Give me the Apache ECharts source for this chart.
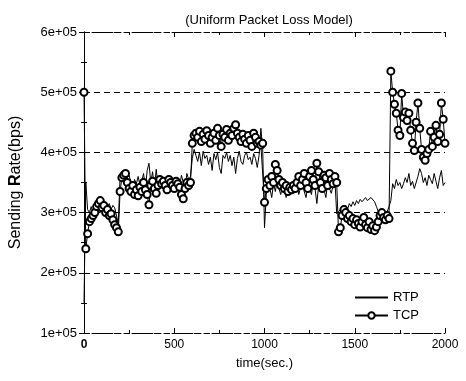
<!DOCTYPE html>
<html><head><meta charset="utf-8">
<script src="https://cdn.jsdelivr.net/npm/echarts@6/dist/echarts.min.js"></script>
<style>html,body{margin:0;padding:0;background:#fff}#c{width:466px;height:381px}</style>
</head><body><div id="c"></div>
<script>
// time in seconds
const times = [0,10,20,30,40,50,60,70,80,90,100,110,120,130,140,150,160,170,180,190,
200,210,220,230,240,250,260,270,280,290,300,310,320,330,340,350,360,370,380,390,
400,410,420,430,440,450,460,470,480,490,500,510,520,530,540,550,560,570,580,590,
600,610,620,630,640,650,660,670,680,690,700,710,720,730,740,750,760,770,780,790,
800,810,820,830,840,850,860,870,880,890,900,910,920,930,940,950,960,970,980,990,
1000,1010,1020,1030,1040,1050,1060,1070,1080,1090,1100,1110,1120,1130,1140,1150,1160,1170,1180,1190,
1200,1210,1220,1230,1240,1250,1260,1270,1280,1290,1300,1310,1320,1330,1340,1350,1360,1370,1380,1390,
1400,1410,1420,1430,1440,1450,1460,1470,1480,1490,1500,1510,1520,1530,1540,1550,1560,1570,1580,1590,
1600,1610,1620,1630,1640,1650,1660,1670,1680,1690,1700,1710,1720,1730,1740,1750,1760,1770,1780,1790,
1800,1810,1820,1830,1840,1850,1860,1870,1880,1890,1900,1910,1920,1930,1940,1950,1960,1970,1980,1990,2000];

// sending rate, kbps
const rtpKbps = [150,350,305,300,310,298,315,305,312,300,308,318,305,310,315,305,312,308,310,282,
360,352,365,345,358,362,350,340,355,348,360,345,352,365,340,370,382,350,368,340,
372,345,360,350,342,355,348,362,345,352,340,350,355,345,362,350,340,365,355,360,
390,405,395,385,400,378,402,390,395,380,392,370,398,388,400,375,365,395,390,400,
385,395,378,392,365,390,402,385,380,395,400,388,392,380,398,390,375,395,440,405,
275,330,345,340,325,348,335,352,340,330,345,338,325,350,340,332,345,335,348,330,
342,352,335,325,345,340,330,350,340,315,345,335,348,338,325,350,340,332,345,355,
298,300,305,298,308,312,305,315,310,318,312,320,315,322,318,315,325,320,318,325,
322,318,310,302,298,305,300,298,302,310,320,348,340,355,345,350,340,348,358,350,
365,345,352,340,337,360,373,365,350,358,345,362,355,348,365,352,340,358,370,345,350];

const tcpKbps = [500,240,265,285,290,295,300,310,315,320,308,312,300,305,295,298,288,280,275,268,
335,358,362,365,350,340,335,345,330,338,328,342,335,350,338,330,313,345,352,340,
332,345,355,348,352,345,338,355,350,345,340,352,348,342,330,323,340,350,345,350,
415,428,432,425,435,418,430,422,436,428,415,425,432,420,440,428,410,430,425,438,
420,432,428,440,446,432,425,418,430,422,415,428,420,410,432,425,415,418,412,415,
317,340,355,345,360,350,380,370,355,345,350,340,345,335,342,338,345,340,350,360,
345,355,365,350,340,360,370,355,345,382,368,350,340,362,358,345,365,355,348,360,
350,268,275,295,305,300,290,295,285,290,280,288,282,276,285,292,280,275,285,272,
278,270,276,285,295,300,292,288,295,290,535,500,480,465,437,428,498,458,467,453,
465,437,415,403,450,482,440,405,392,387,398,405,435,410,425,445,418,430,482,455,415];

const xTicks = [0,500,1000,1500,2000];
const yTicks = [100000,200000,300000,400000,500000,600000];

const rtp = times.map((t,i)=>[t, rtpKbps[i]*1000]);
const tcp = times.map((t,i)=>[t, tcpKbps[i]*1000]);

const FONT = 'Liberation Sans, Arial, Helvetica, sans-serif';
const chart = echarts.init(document.getElementById('c'), null, {renderer:'canvas'});
const fmtY = v => (v/100000) + 'e+05';
const xBase = {
  type:'value', min:xTicks[0], max:xTicks[xTicks.length-1], interval:500,
  axisLine:{show:true, lineStyle:{color:'#000', type:[5,3], width:1}},
  axisTick:{show:true, inside:true, length:5, lineStyle:{color:'#000'}},
  minorTick:{show:true, splitNumber:2, length:3, lineStyle:{color:'#000'}},
  splitLine:{show:false}
};
const yBase = {
  type:'value', min:yTicks[0], max:yTicks[yTicks.length-1], interval:100000,
  axisLine:{show:true, lineStyle:{color:'#000', width:1}},
  axisTick:{show:true, inside:true, length:5, lineStyle:{color:'#000'}},
  minorTick:{show:true, splitNumber:2, length:3, lineStyle:{color:'#000'}}
};
chart.setOption({
  animation:false,
  backgroundColor:'#fff',
  title:{text:'(Uniform Packet Loss Model)', left:264, textAlign:'center', top:9,
    textStyle:{fontFamily:FONT, fontSize:13, fontWeight:'normal', color:'#000'}},
  grid:{left:83, right:21, top:32, bottom:48},
  legend:{
    orient:'vertical', left:349, top:286, itemWidth:33, itemHeight:8, itemGap:5,
    textStyle:{fontFamily:FONT, fontSize:13, color:'#000'},
    data:[
      {name:'RTP', itemStyle:{opacity:0}},
      {name:'TCP', itemStyle:{borderWidth:1}}
    ]
  },
  xAxis:[
    Object.assign({}, xBase, {position:'bottom',
      name:'time(sec.)', nameLocation:'middle', nameGap:24,
      nameTextStyle:{fontFamily:FONT, fontSize:13, color:'#000'},
      axisLabel:{show:true, fontFamily:FONT, fontSize:12, color:'#000', margin:6,
        formatter: v => v===0 ? '{b|0}' : String(v),
        rich:{b:{fontWeight:'bold', fontFamily:FONT, fontSize:12, color:'#000'}}}}),
    Object.assign({}, xBase, {position:'top', axisLabel:{show:false}})
  ],
  yAxis:[
    Object.assign({}, yBase, {position:'left',
      name:'Sending {b|R}ate(bps)', nameLocation:'middle', nameGap:60, nameRotate:90,
      nameTextStyle:{fontFamily:FONT, fontSize:16, color:'#000',
        rich:{b:{fontWeight:'bold', fontFamily:FONT, fontSize:16, color:'#000'}}},
      axisLabel:{show:true, fontFamily:FONT, fontSize:13, color:'#000', margin:7, formatter:fmtY},
      splitLine:{show:true, lineStyle:{color:'#000', type:[6,4], width:1}}}),
    Object.assign({}, yBase, {position:'right', axisLabel:{show:false}, splitLine:{show:false}})
  ],
  series:[
    {name:'RTP', type:'line', data:rtp, symbol:'none', lineStyle:{color:'#000', width:1}, itemStyle:{color:'#000'}},
    {name:'TCP', type:'line', data:tcp, symbol:'emptyCircle', symbolSize:7,
      lineStyle:{color:'#000', width:1}, itemStyle:{color:'#000', borderColor:'#000', borderWidth:0.8}}
  ]
});
</script></body></html>
